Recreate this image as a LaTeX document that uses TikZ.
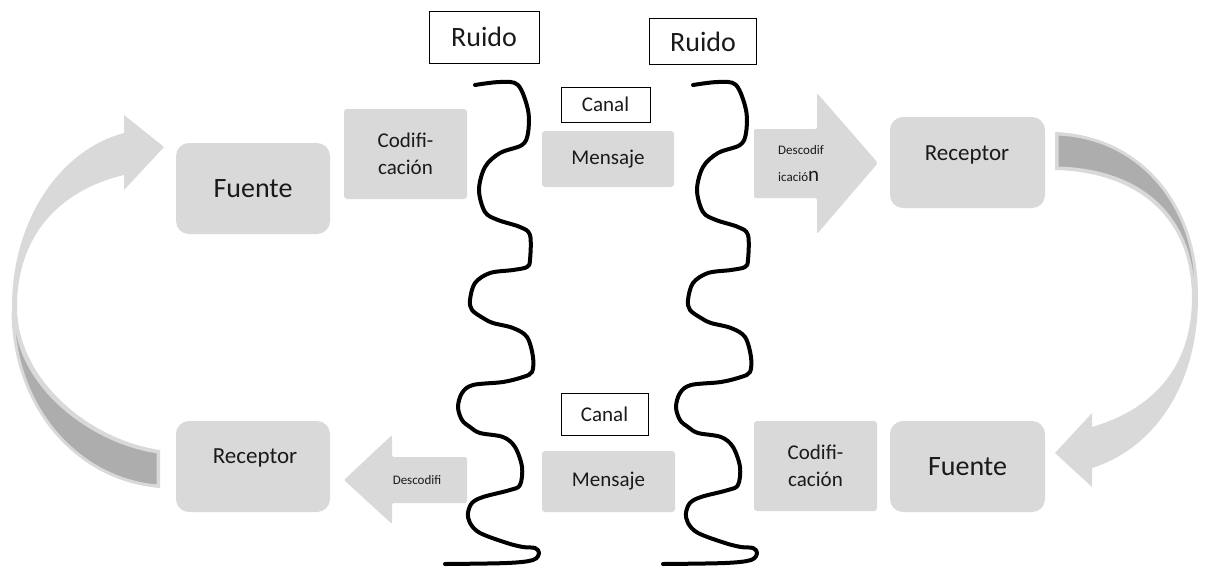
\documentclass[tikz,border=0pt]{standalone}
\usepackage{fontspec}
\setmainfont{Carlito}
\definecolor{boxgray}{HTML}{D9D9D9}
\definecolor{backgray}{HTML}{ADADAD}
\definecolor{txt}{HTML}{1A1A1A}
\newcommand\fsBig{\fontsize{28}{34}\selectfont}
\newcommand\fsRec{\fontsize{23}{28}\selectfont}
\newcommand\fsMid{\fontsize{21}{27}\selectfont}
\newcommand\fsSmall{\fontsize{13}{27}\selectfont}
\begin{document}
\begin{tikzpicture}[x=1pt,y=-1pt,
  gbox/.style={fill=boxgray, inner sep=0pt, align=center, text=txt, rounded corners=3pt},
  rbox/.style={gbox, rounded corners=13pt},
  lbox/.style={draw=black, line width=1pt, inner sep=0pt, fill=white, text=txt},
  wave/.style={draw=black, line width=4pt, line cap=round, line join=round},
  flat/.style={fill=boxgray, rounded corners=2pt},
  backpart/.style={fill=backgray, draw=boxgray, line width=3pt, line join=round},
  lab/.style={inner sep=0pt, text=txt, align=center}]
\useasboundingbox (0,0) rectangle (1208,566);

% left circular arrow
\fill[boxgray] (124,133) .. controls (60,150) and (12,220) .. (12,307)
  .. controls (12,410) and (80,480) .. (160,488) -- (160,450)
  .. controls (90,440) and (17,380) .. (17,307)
  .. controls (17,235) and (60,190) .. (124,175)
  -- (124,190) -- (164,147) -- (124,115) -- cycle;
\filldraw[backpart] (13,312) .. controls (14,410) and (80,480) .. (158,486) -- (158,452)
  .. controls (90,442) and (18,385) .. (16,318) -- cycle;

% right circular arrow
\fill[boxgray] (1055,132) .. controls (1140,135) and (1198,210) .. (1198,297)
  .. controls (1198,390) and (1150,450) .. (1092,468)
  -- (1092,487) -- (1055,453) -- (1092,413) -- (1092,427)
  .. controls (1150,410) and (1192,370) .. (1192,297)
  .. controls (1192,220) and (1140,172) .. (1055,170) -- cycle;
\filldraw[backpart] (1057,134) .. controls (1140,137) and (1194,205) .. (1196,285)
  -- (1193,285) .. controls (1188,215) and (1140,170) .. (1057,168) -- cycle;

% block arrows
\fill[flat] (754,129) -- (817,129) -- (817,93) -- (878,163) -- (817,234) -- (817,198) -- (754,198) -- cycle;
\node[lab, align=left, font=\fsSmall] (desc1) at (801,164) {Descodif\\icació{\fsMid n}};
\fill[flat] (467,457) -- (392,457) -- (392,435) -- (344,480) -- (392,524) -- (392,503) -- (467,503) -- cycle;
\node[lab, font=\fsSmall] (desc2) at (417,480) {Descodifi};

% boxes
\node[rbox, minimum width=154, minimum height=91] (fuente1) at (253,188.5) {\fsBig Fuente};
\node[gbox, minimum width=123, minimum height=90, font=\fsMid] (cod1) at (405.5,154) {Codifi-\\cación};
\node[gbox, minimum width=132, minimum height=56] (men1) at (608,159) {\fsMid Mensaje};
\node[rbox, minimum width=155, minimum height=91] (rec1) at (967.5,162.5) {};
\node[lab] (rec1t) at (967,155) {\fsRec Receptor};

\node[rbox, minimum width=154, minimum height=91] (rec2) at (253,466.5) {};
\node[lab] (rec2t) at (255,458) {\fsRec Receptor};
\node[gbox, minimum width=133, minimum height=61] (men2) at (608.5,481.5) {\fsMid Mensaje};
\node[gbox, minimum width=123, minimum height=90, font=\fsMid] (cod2) at (815.5,466) {Codifi-\\cación};
\node[rbox, minimum width=155, minimum height=91] (fuente2) at (967.5,466.5) {\fsBig Fuente};

% outlined labels
\node[lbox, minimum width=110, minimum height=52] (ruido1) at (484,37) {\fsBig Ruido};
\node[lbox, minimum width=107, minimum height=46] (ruido2) at (703,41.5) {\fsBig Ruido};
\node[lbox, minimum width=89, minimum height=35] (canal1) at (605.5,104.5) {\fsMid Canal};
\node[lbox, minimum width=87, minimum height=42] (canal2) at (604.5,414) {\fsMid Canal};

% noise waves
\foreach \dx in {0,218} {
  \draw[wave, shift={(\dx,0)}] plot[smooth, tension=0.55] coordinates {
    (475,85) (500,82) (518,85) (528,110) (528,133) (522,145) (500,153) (485,167)
    (479,190) (485,212) (498,220) (520,227) (530,235) (530,260) (527,267) (513,270)
    (490,273) (475,283) (470,300) (472,310) (483,318) (493,323) (513,328) (527,337)
    (533,357) (532,372) (523,377) (503,382) (473,385) (462,393) (458,407) (462,420)
    (470,427) (480,433) (503,437) (515,447) (522,467) (520,485) (510,490) (483,497)
    (472,503) (468,513) (470,523) (480,533) (507,543) (523,547) (535,548) (539,553)
    (533,560) (507,563) (445,564)};
}
\end{tikzpicture}
\end{document}
